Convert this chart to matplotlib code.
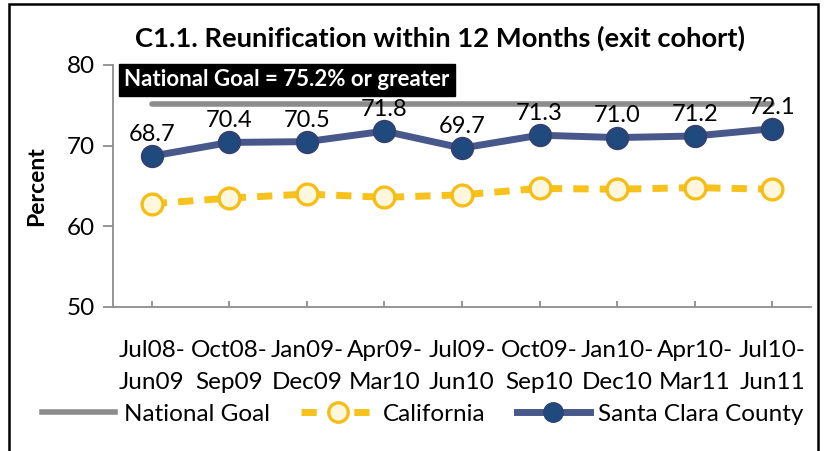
import matplotlib
matplotlib.use("Agg")
import matplotlib.pyplot as plt
from matplotlib.lines import Line2D
from matplotlib.patches import Rectangle

categories = ["Jul08-\nJun09", "Oct08-\nSep09", "Jan09-\nDec09", "Apr09-\nMar10", "Jul09-\nJun10",
              "Oct09-\nSep10", "Jan10-\nDec10", "Apr10-\nMar11", "Jul10-\nJun11"]
santa_clara = [68.7, 70.4, 70.5, 71.8, 69.7, 71.3, 71.0, 71.2, 72.1]
california = [62.8, 63.5, 64.0, 63.6, 63.9, 64.7, 64.6, 64.8, 64.6]
national_goal = 75.2
yticks = [50, 60, 70, 80]

plt.rcParams['font.family'] = ['Lato', 'DejaVu Sans']

fig = plt.figure(figsize=(8.26, 4.51), dpi=100)
ax = fig.add_axes([113/826, 1 - 307/451, (811-113)/826, (307-65)/451])

GRAY = '#8C8C8C'
GOLD = '#F7C21C'
x = list(range(len(categories)))
ax.plot([x[0], x[-1]], [national_goal]*2, color=GRAY, lw=4, solid_capstyle='round', zorder=2)
ax.plot(x, california, color=GOLD, lw=5, ls=(0, (2.2, 1.6)), marker='o', ms=15,
        mfc='#FFF6DE', mec='#F5BE16', mew=2.4, zorder=3)
ax.plot(x, santa_clara, color='#48588A', lw=5, marker='o', ms=15,
        mfc='#1F4A7E', mec='#2F4273', mew=1.8, zorder=4)
for xi, v in zip(x, santa_clara):
    ax.annotate(f"{v:.1f}", (xi, v), xytext=(0, 8), textcoords='offset points',
                ha='center', va='bottom', fontsize=17, color='black')

ax.set_xlim(-0.5, len(categories) - 0.5)
ax.set_ylim(50, 80)
ax.set_yticks(yticks)
ax.set_xticks(x)
ax.set_xticklabels(categories, fontsize=17.5, linespacing=1.65)
ax.tick_params(axis='y', labelsize=17.5, length=7, color=GRAY, width=1.3, pad=6)
ax.tick_params(axis='x', direction='in', length=4, color=GRAY, width=1.3, pad=24)
for s in ['top', 'right']:
    ax.spines[s].set_visible(False)
for s in ['left', 'bottom']:
    ax.spines[s].set_color(GRAY)
    ax.spines[s].set_linewidth(1.3)
ax.set_ylabel("Percent", fontsize=16.5, fontweight='bold', labelpad=14)

fig.text(440/826, 1 - 38/451, "C1.1. Reunification within 12 Months (exit cohort)",
         ha='center', va='center', fontsize=19.7, fontweight='bold')
fig.text(287/826, 1 - 80/451, "National Goal = 75.2% or greater", ha='center', va='center',
         fontsize=16, fontweight='bold', color='white',
         bbox=dict(boxstyle='square,pad=0.25', fc='black', ec='black'))

handles = [Line2D([], [], color=GRAY, lw=4),
           Line2D([], [], color=GOLD, lw=5, ls=(0, (2.2, 1.6)), marker='o', ms=14,
                  mfc='#FFF6DE', mec='#F5BE16', mew=2.4),
           Line2D([], [], color='#48588A', lw=5, marker='o', ms=14, mfc='#1F4A7E', mec='#2F4273')]
fig.legend(handles, ["National Goal", "California", "Santa Clara County"], loc='center',
           bbox_to_anchor=(423/826, 1 - 414/451), ncol=3, frameon=False, fontsize=17.5,
           handlelength=3.0, columnspacing=1.3, handletextpad=0.35)

fig.patches.append(Rectangle((9/826, -0.01), (818-9)/826, 1 - 4/451 + 0.01, transform=fig.transFigure,
                             fill=False, ec='black', lw=1.8))

fig.savefig("out.png", dpi=100)
